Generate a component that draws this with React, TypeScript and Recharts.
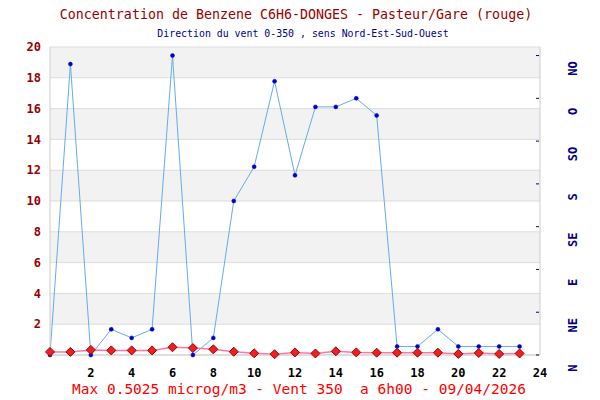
import { ComposedChart, Line, XAxis, YAxis, CartesianGrid } from 'recharts';

// hourly values, 0h..23h
const hours = [0, 1, 2, 3, 4, 5, 6, 7, 8, 9, 10, 11, 12, 13, 14, 15, 16, 17, 18, 19, 20, 21, 22, 23];
const benzene = [0.2, 0.2, 0.33, 0.3, 0.3, 0.3, 0.5025, 0.45, 0.37, 0.21, 0.11, 0.05, 0.17, 0.1, 0.24, 0.17, 0.15, 0.15, 0.15, 0.15, 0.07, 0.13, 0.07, 0.1];
const windDir = [0, 340, 0, 30, 20, 30, 350, 0, 20, 180, 220, 320, 210, 290, 290, 300, 280, 10, 10, 30, 10, 10, 10, 10];

const xTicks = [2, 4, 6, 8, 10, 12, 14, 16, 18, 20, 22, 24];
const yTicks = [0, 2, 4, 6, 8, 10, 12, 14, 16, 18, 20];
const dirTicks = [0, 50, 100, 150, 200, 250, 300, 350];
const dirLabels = ['N', 'NE', 'E', 'SE', 'S', 'SO', 'O', 'NO'];

const title = 'Concentration de Benzene C6H6-DONGES - Pasteur/Gare (rouge)';
const subtitle = 'Direction du vent 0-350 , sens Nord-Est-Sud-Ouest';
const footer = 'Max 0.5025 microg/m3 - Vent 350  a 6h00 - 09/04/2026';

const data = hours.map((h, i) => ({ h, benzene: benzene[i], wind: windDir[i] }));

const mono = '"DejaVu Sans Mono", "Liberation Mono", monospace';

function Diamond(props: any) {
  const { cx, cy } = props;
  if (cx == null || cy == null) return null;
  const r = 4.5;
  return (
    <path
      d={`M${cx},${cy - r} L${cx + r},${cy} L${cx},${cy + r} L${cx - r},${cy} Z`}
      fill="#ee2020"
      stroke="#a00000"
      strokeWidth={1}
    />
  );
}

function DirTick(props: any) {
  const { x, y, payload } = props;
  const idx = dirTicks.indexOf(payload.value);
  return (
    <g>
      <line x1={x - 4} x2={x - 1} y1={y} y2={y} stroke="#000088" strokeWidth={1} />
      <text
        x={x + 33}
        y={y + 13}
        transform={`rotate(-90, ${x + 33}, ${y + 13})`}
        textAnchor="middle"
        dominantBaseline="central"
        fill="#000088"
        fontFamily={mono}
        fontWeight="bold"
        fontSize={12}
      >
        {dirLabels[idx]}
      </text>
    </g>
  );
}

export default function App() {
  return (
    <div style={{ position: 'absolute', left: 0, top: 0, width: 600, height: 400, background: '#fff' }}>
      <div style={{ position: 'absolute', left: 0, width: 592, top: 7, textAlign: 'center', fontFamily: mono, fontSize: 13.3, color: '#990000', whiteSpace: 'pre' }}>
        {title}
      </div>
      <div style={{ position: 'absolute', left: 0, width: 606, top: 28, textAlign: 'center', fontFamily: mono, fontSize: 9.9, color: '#000088', whiteSpace: 'pre' }}>
        {subtitle}
      </div>
      <ComposedChart
        width={600}
        height={400}
        data={data}
        margin={{ top: 47, right: 0, bottom: 0, left: 0 }}
      >
        <CartesianGrid
          yAxisId="left"
          vertical={false}
          stroke="#dddddd"
          horizontalFill={['#f2f2f2', '#ffffff']}
          syncWithTicks
        />
        <XAxis
          dataKey="h"
          type="number"
          domain={[0, 24]}
          ticks={xTicks}
          height={45}
          tickSize={0}
          tickMargin={13}
          axisLine={{ stroke: '#cccccc' }}
          tick={{ fill: '#000000', fontFamily: mono, fontWeight: 'bold', fontSize: 12 }}
        />
        <YAxis
          yAxisId="left"
          domain={[0, 20]}
          ticks={yTicks}
          width={50}
          tickSize={0}
          tickMargin={9}
          axisLine={{ stroke: '#cccccc' }}
          tickFormatter={(v: number) => (v === 0 ? '' : String(v))}
          tick={{ fill: '#990000', fontFamily: mono, fontWeight: 'bold', fontSize: 12 }}
        />
        <YAxis
          yAxisId="right"
          orientation="right"
          domain={[0, 360]}
          ticks={dirTicks}
          width={60}
          tickSize={0}
          tickMargin={0}
          axisLine={{ stroke: '#cccccc' }}
          tick={<DirTick />}
        />
        <Line
          yAxisId="right"
          dataKey="wind"
          stroke="#66aaee"
          strokeWidth={1}
          dot={{ r: 2, fill: '#0000cc', stroke: '#0000cc', strokeWidth: 0.5 }}
          isAnimationActive={false}
        />
        <Line
          yAxisId="left"
          dataKey="benzene"
          stroke="#ff77aa"
          strokeWidth={1.5}
          dot={<Diamond />}
          isAnimationActive={false}
        />
      </ComposedChart>
      <div style={{ position: 'absolute', left: 0, width: 598, top: 381, textAlign: 'center', fontFamily: mono, fontSize: 14.5, color: '#ff0000', whiteSpace: 'pre' }}>
        {footer}
      </div>
    </div>
  );
}
